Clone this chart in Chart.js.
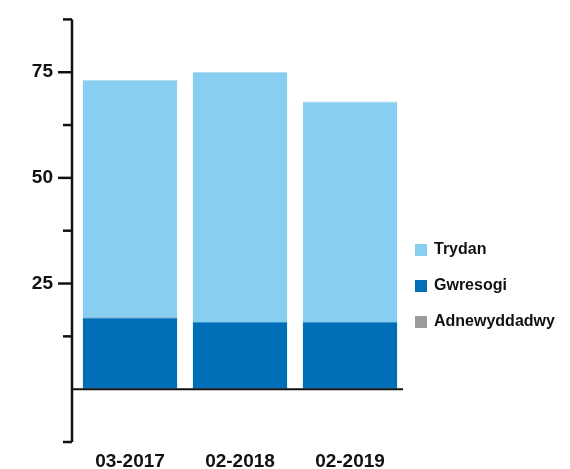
<!DOCTYPE html>
<html>
<head>
<meta charset="utf-8">
<script src="https://cdn.jsdelivr.net/npm/chart.js@4/dist/chart.umd.min.js"></script>
<style>
  body { margin: 0; background: #fff; }
  #wrap { position: relative; width: 570px; height: 469px; }
  #legend { position: absolute; left: 415px; top: 240px; font: bold 16px "Liberation Sans", Arial, sans-serif; color: #111; }
  #legend div { height: 36px; display: flex; align-items: flex-start; }
  #legend span.box { display: inline-block; width: 12px; height: 12px; margin: 4px 7px 0 0; }
</style>
</head>
<body>
<div id="wrap">
  <canvas id="chart" width="570" height="469"></canvas>
  <div id="legend"></div>
</div>
<script>
const categories = ["03-2017", "02-2018", "02-2019"];
const trydan = [56.2, 59.2, 52.2];
const gwresogi = [17.0, 15.9, 15.9];
const adnewyddadwy = [0, 0, 0];
const majorTicks = [25, 50, 75];

const seriesNames = ["Trydan", "Gwresogi", "Adnewyddadwy"];
const seriesColors = ["#88cef0", "#006fb8", "#9c9c9c"];

const font = { family: '"Liberation Sans", Arial, sans-serif', weight: 'bold' };

// axis line, tick marks and zero line drawn from the y scale
const axisPlugin = {
    id: 'axisPlugin',
    afterDatasetsDraw(chart) {
        const { ctx, chartArea, scales: { y } } = chart;
        const ax = chartArea.left - 3;
        ctx.save();
        ctx.strokeStyle = '#111';
        ctx.lineWidth = 2.5;
        ctx.beginPath();
        ctx.moveTo(ax, y.getPixelForValue(y.max));
        ctx.lineTo(ax, y.getPixelForValue(y.min));
        ctx.stroke();
        y.ticks.forEach(t => {
            if (t.value === 0) return;
            const py = y.getPixelForValue(t.value);
            const len = majorTicks.includes(t.value) ? 14 : 9;
            ctx.beginPath();
            ctx.moveTo(ax - len, py);
            ctx.lineTo(ax, py);
            ctx.stroke();
        });
        const z = y.getPixelForValue(0);
        ctx.lineWidth = 2;
        ctx.beginPath();
        ctx.moveTo(ax, z);
        ctx.lineTo(chartArea.right - 2, z);
        ctx.stroke();
        ctx.restore();
    }
};

const data = {
    labels: categories,
    datasets: [
        { label: seriesNames[1], data: gwresogi, backgroundColor: seriesColors[1], borderColor: '#3d93d0', borderWidth: { top: 1, left: 0, right: 0, bottom: 0 }, borderSkipped: false },
        { label: seriesNames[0], data: trydan, backgroundColor: seriesColors[0], borderColor: '#a9def6', borderWidth: { top: 1, left: 0, right: 0, bottom: 0 }, borderSkipped: false },
        { label: seriesNames[2], data: adnewyddadwy, backgroundColor: seriesColors[2] }
    ]
};

new Chart(document.getElementById('chart'), {
    type: 'bar',
    data: data,
    plugins: [axisPlugin],
    options: {
        responsive: false,
        animation: false,
        layout: { padding: { top: 17, right: 165, left: 0, bottom: 0 } },
        datasets: { bar: { barPercentage: 0.86, categoryPercentage: 1 } },
        plugins: { legend: { display: false }, tooltip: { enabled: false } },
        scales: {
            x: {
                stacked: true,
                grid: { display: false },
                border: { display: false },
                ticks: { color: '#111', font: { ...font, size: 19 }, padding: 0 },
                afterFit(s) { s.height = 27; }
            },
            y: {
                stacked: true,
                min: -12.5,
                max: 87.5,
                border: { display: false },
                grid: { drawOnChartArea: false, drawTicks: true, tickLength: 14, tickColor: 'rgba(0,0,0,0)' },
                ticks: {
                    stepSize: 12.5,
                    color: '#111',
                    font: { ...font, size: 19 },
                    padding: 8,
                    callback: v => majorTicks.includes(v) ? String(v) : ''
                },
                afterFit(s) { s.width = 75; }
            }
        }
    }
});

const legend = document.getElementById('legend');
seriesNames.forEach((name, i) => {
    const row = document.createElement('div');
    row.innerHTML = `<span class="box" style="background:${seriesColors[i]}"></span>${name}`;
    legend.appendChild(row);
});
</script>
</body>
</html>
